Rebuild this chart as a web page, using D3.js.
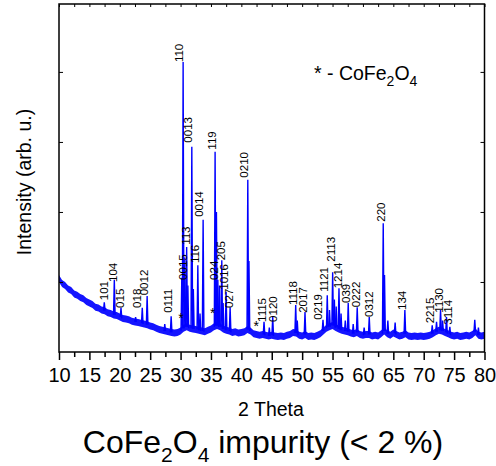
<!DOCTYPE html>
<html>
<head>
<meta charset="utf-8">
<script src="https://cdn.jsdelivr.net/npm/d3@7"></script>
<style>
  body { margin: 0; background: #fff; }
  svg { display: block; font-family: "Liberation Sans", Arial, sans-serif; }
</style>
</head>
<body>
<div id="chart"></div>
<script>
// Background level (arb. u.), one value every 0.5 deg from 10 to 80
const background = [
  1.05, 0.98, 0.95, 0.90, 0.88, 0.83, 0.81, 0.78, 0.76, 0.72,
  0.70, 0.68, 0.64, 0.63, 0.60, 0.59, 0.56, 0.55, 0.53, 0.52,
  0.50, 0.48, 0.47, 0.46, 0.44, 0.43, 0.42, 0.41, 0.40, 0.39,
  0.37, 0.36, 0.34, 0.32, 0.31, 0.30, 0.29, 0.28, 0.27, 0.28,
  0.30, 0.34, 0.36, 0.34, 0.33, 0.32, 0.31, 0.30, 0.29, 0.31,
  0.33, 0.36, 0.38, 0.36, 0.33, 0.31, 0.30, 0.28, 0.29, 0.27,
  0.28, 0.29, 0.32, 0.30, 0.26, 0.25, 0.24, 0.25, 0.24, 0.23,
  0.24, 0.23, 0.22, 0.23, 0.22, 0.24, 0.25, 0.28, 0.27, 0.24,
  0.23, 0.25, 0.22, 0.23, 0.22, 0.24, 0.26, 0.30, 0.34, 0.36,
  0.38, 0.35, 0.33, 0.31, 0.30, 0.29, 0.27, 0.26, 0.28, 0.25,
  0.24, 0.25, 0.25, 0.23, 0.24, 0.23, 0.26, 0.30, 0.26, 0.24,
  0.27, 0.25, 0.23, 0.24, 0.26, 0.23, 0.22, 0.23, 0.22, 0.23,
  0.22, 0.23, 0.24, 0.26, 0.29, 0.31, 0.30, 0.28, 0.26, 0.24,
  0.23, 0.24, 0.22, 0.23, 0.24, 0.23, 0.25, 0.29, 0.24, 0.23,
  0.24
];
const backgroundAngles = d3.range(10, 80.001, 0.5);

// Reflections [2 theta, peak intensity]
const peaks = [
  [17.45, 0.71], [19.1, 1.03], [20.2, 0.63], [23.7, 0.63], [24.5, 0.80],
  [28.45, 0.51], [30.2, 1.06], [30.42, 4.14], [31.0, 1.50], [31.85, 2.93],
  [32.84, 1.24], [33.71, 1.89], [35.68, 2.86], [36.13, 1.03], [36.78, 1.31],
  [37.49, 0.86], [38.15, 0.64], [41.06, 2.46], [43.73, 0.43], [45.16, 0.50],
  [48.94, 0.67], [50.47, 0.57], [53.43, 0.46], [54.13, 0.81], [55.02, 1.14],
  [56.06, 0.91], [57.58, 0.70], [59.06, 0.64], [61.04, 0.50], [63.34, 1.84],
  [66.9, 0.60], [72.11, 0.43], [72.77, 0.60], [73.75, 0.50]
];
// Smaller unlabelled bumps
const minorPeaks = [
  [22.6, 0.50], [27.4, 0.40], [30.7, 1.35], [31.2, 0.95], [32.1, 0.90],
  [33.2, 0.55], [35.9, 2.00], [36.4, 0.95], [37.0, 0.70], [41.25, 1.30],
  [44.6, 0.35], [49.2, 0.45], [54.5, 0.60], [55.3, 0.75], [55.6, 0.65],
  [56.4, 0.55], [57.1, 0.45], [58.4, 0.40], [60.2, 0.35], [63.55, 1.10],
  [64.1, 0.45], [65.3, 0.42], [71.4, 0.38], [73.1, 0.45], [74.3, 0.36],
  [78.4, 0.46], [79.0, 0.35]
];
// Miller index labels [text, 2 theta of label, level of label foot]
const peakLabels = [
  ["101", 18.06, 0.74], ["104", 19.53, 1.00], ["015", 20.62, 0.63],
  ["018", 23.53, 0.63], ["0012", 24.63, 0.81], ["0111", 28.58, 0.56],
  ["0015", 31.04, 1.03], ["110", 30.43, 4.14], ["113", 31.58, 1.53],
  ["0013", 31.86, 2.99], ["116", 33.06, 1.27], ["0014", 33.77, 1.93],
  ["119", 35.86, 2.89], ["024", 36.19, 1.03], ["205", 37.34, 1.31],
  ["1016", 37.83, 0.89], ["027", 38.65, 0.63], ["0210", 41.12, 2.49],
  ["1115", 44.03, 0.43], ["0120", 45.84, 0.43], ["1118", 49.13, 0.67],
  ["2017", 50.77, 0.56], ["0219", 53.29, 0.46], ["1121", 54.27, 0.86],
  ["2113", 55.42, 1.29], ["1214", 56.57, 0.91], ["039", 57.89, 0.70],
  ["0222", 59.53, 0.64], ["0312", 61.62, 0.50], ["220", 63.64, 1.86],
  ["134", 67.09, 0.60], ["2215", 71.70, 0.41], ["1130", 73.13, 0.56],
  ["3114", 74.61, 0.39]
];
// CoFe2O4 impurity marks [2 theta, level]
const impurityMarks = [[30.05, 0.53], [35.3, 0.60], [42.45, 0.41]];
const xTicks = [10, 15, 20, 25, 30, 35, 40, 45, 50, 55, 60, 65, 70, 75, 80];
const xMinorTicks = [12.5, 17.5, 22.5, 27.5, 32.5, 37.5, 42.5, 47.5, 52.5, 57.5, 62.5, 67.5, 72.5, 77.5];
const yTicks = [1, 2, 3, 4];

const width = 496;
const height = 466;
const marginLeft = 59;
const marginRight = 11.5;
const marginTop = 4;
const marginBottom = 114;
const blue = "#0000ff";

const x = d3.scaleLinear().domain([10, 80]).range([marginLeft, width - marginRight]);
const y = d3.scaleLinear().domain([0, 4.97]).range([height - marginBottom, marginTop]);

const svg = d3.select("#chart").append("svg")
    .attr("width", width)
    .attr("height", height)
    .attr("viewBox", [0, 0, width, height]);

svg.append("clipPath").attr("id", "plot")
  .append("rect")
    .attr("x", marginLeft).attr("y", marginTop)
    .attr("width", width - marginLeft - marginRight)
    .attr("height", height - marginTop - marginBottom);

const bgData = backgroundAngles.map((t, i) => [t, background[i]]);
const baseAt = t => background[Math.round((t - 10) * 2)];

const plot = svg.append("g").attr("clip-path", "url(#plot)");

// noisy background drawn as a band
plot.append("path")
    .datum(bgData)
    .attr("fill", blue)
    .attr("fill-opacity", 0.92)
    .attr("d", d3.area()
      .x(d => x(d[0]))
      .y0(d => y(d[1]) + 3.5)
      .y1(d => y(d[1]) - 3.5));

// sharp reflections
const peakLine = d3.line();
plot.append("g")
    .attr("fill", "none")
    .attr("stroke", blue)
    .attr("stroke-width", 1.4)
  .selectAll("path")
  .data(minorPeaks.concat(peaks))
  .join("path")
    .attr("d", ([t, h]) => peakLine([
      [x(t - 0.13), y(baseAt(t - 0.13))],
      [x(t), y(h)],
      [x(t + 0.13), y(baseAt(t + 0.13))]
    ]));

// peak labels
svg.append("g")
    .attr("font-size", 11.5)
    .attr("fill", "#000")
  .selectAll("text")
  .data(peakLabels)
  .join("text")
    .attr("transform", d => `translate(${x(d[1])},${y(d[2])}) rotate(-90)`)
    .text(d => d[0]);

// impurity marks
svg.append("g")
    .attr("font-size", 14)
    .attr("text-anchor", "middle")
  .selectAll("text")
  .data(impurityMarks)
  .join("text")
    .attr("x", d => x(d[0]))
    .attr("y", d => y(d[1]) + 8)
    .text("*");

// axes
const xAxisY = height - marginBottom;
svg.append("g")
    .attr("transform", `translate(0,${xAxisY})`)
    .call(d3.axisBottom(x).tickValues(xTicks).tickSize(8).tickPadding(7.5).tickSizeOuter(0))
    .call(g => g.select(".domain").remove())
    .call(g => g.selectAll(".tick line").attr("stroke-width", 1.5))
    .call(g => g.selectAll("text").attr("font-size", 20).attr("font-family", "Liberation Sans, Arial, sans-serif"));

svg.append("g")
    .attr("transform", `translate(0,${xAxisY})`)
    .call(d3.axisBottom(x).tickValues(xMinorTicks).tickSize(5).tickFormat(""))
    .call(g => g.select(".domain").remove())
    .call(g => g.selectAll(".tick line").attr("stroke-width", 1.5));

svg.append("g")
    .attr("transform", `translate(0,${marginTop})`)
    .call(d3.axisBottom(x).tickValues(xTicks.concat(xMinorTicks)).tickSize(3).tickFormat(""))
    .call(g => g.select(".domain").remove());

svg.append("g")
    .attr("transform", `translate(${marginLeft},0)`)
    .call(d3.axisRight(y).tickValues(yTicks).tickSize(4).tickFormat(""))
    .call(g => g.select(".domain").remove());

svg.append("g")
    .attr("transform", `translate(${width - marginRight},0)`)
    .call(d3.axisLeft(y).tickValues(yTicks).tickSize(4).tickFormat(""))
    .call(g => g.select(".domain").remove());

svg.append("rect")
    .attr("x", marginLeft).attr("y", marginTop)
    .attr("width", width - marginLeft - marginRight)
    .attr("height", height - marginTop - marginBottom)
    .attr("fill", "none")
    .attr("stroke", "#000")
    .attr("stroke-width", 1.5);

// axis titles
svg.append("text")
    .attr("x", 271).attr("y", 415.5)
    .attr("text-anchor", "middle")
    .attr("font-size", 19.5)
    .text("2 Theta");

svg.append("text")
    .attr("transform", `translate(31,${(marginTop + xAxisY) / 2 + 4}) rotate(-90)`)
    .attr("text-anchor", "middle")
    .attr("font-size", 19.5)
    .text("Intensity (arb. u.)");

// legend
const legend = svg.append("text")
    .attr("x", 314).attr("y", 80)
    .attr("font-size", 19.5);
legend.append("tspan").text("* - CoFe");
legend.append("tspan").attr("font-size", 14).attr("dy", 6).text("2");
legend.append("tspan").attr("dy", -6).text("O");
legend.append("tspan").attr("font-size", 14).attr("dy", 6).text("4");

// caption
const caption = svg.append("text")
    .attr("x", 263).attr("y", 453)
    .attr("text-anchor", "middle")
    .attr("font-size", 32);
caption.append("tspan").text("CoFe");
caption.append("tspan").attr("font-size", 21).attr("dy", 9).text("2");
caption.append("tspan").attr("dy", -9).text("O");
caption.append("tspan").attr("font-size", 21).attr("dy", 9).text("4");
caption.append("tspan").attr("dy", -9).text(" impurity (< 2 %)");
</script>
</body>
</html>
